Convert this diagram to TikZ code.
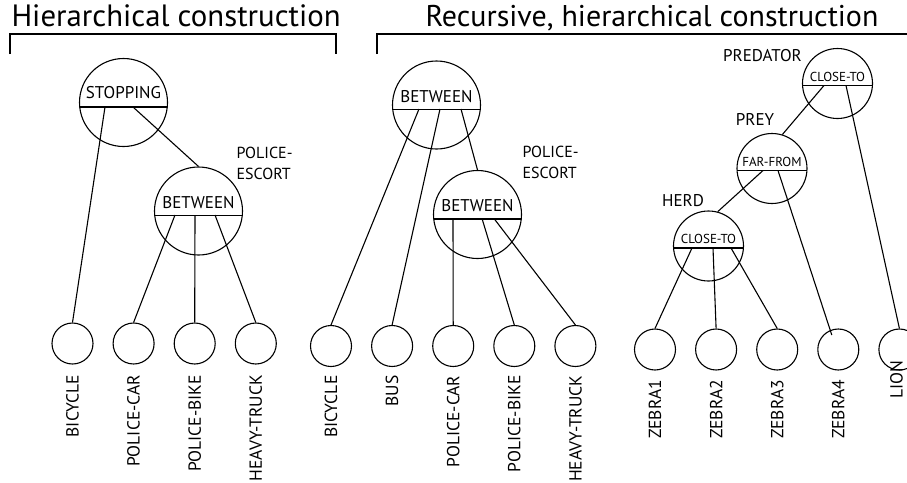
\documentclass[tikz,border=0pt]{standalone}
\usepackage{fontspec}
\setmainfont{PT Sans}
\usetikzlibrary{positioning}

\begin{document}
\begin{tikzpicture}[x=1pt, y=-1pt, node distance=19pt, line width=1.1pt]
	\tikzstyle{rel}=[draw, circle, minimum size=88pt, inner sep=0pt,
path picture={\draw[line width=1.1pt] ([yshift=-4.5pt]path picture bounding box.west) -- ([yshift=-4.5pt]path picture bounding box.east);}]
	\tikzstyle{rel_s}=[draw, circle, minimum size=70pt, inner sep=0pt,
path picture={\draw[line width=1.1pt] ([yshift=-2pt]path picture bounding box.west) -- ([yshift=-2pt]path picture bounding box.east);}]
	\tikzstyle{leaf}=[draw, circle, minimum size=41pt, inner sep=0pt]
	\tikzstyle{obj}=[rotate=90, anchor=east, inner sep=0pt, font=\fontsize{17.5}{17.5}\selectfont]
	\tikzstyle{tag}=[inner sep=0pt, align=left, font=\fontsize{16}{21}\selectfont]
	\tikzstyle{big}=[font=\fontsize{17}{17}\selectfont, inner sep=0pt]
	\tikzstyle{small}=[font=\fontsize{13}{13}\selectfont, inner sep=0pt]
	\tikzstyle{title}=[anchor=base west, inner sep=0pt]

	\useasboundingbox (0,0) rectangle (907,482);

	\node[title, font=\fontsize{30.8}{30.8}\selectfont] (t1) at (11,26) {Hierarchical construction};
	\node[title, font=\fontsize{30}{30}\selectfont] (t2) at (425,26) {Recursive, hierarchical construction};
	\draw (10,54) -- (10,34) -- (336,34) -- (336,54);
	\draw (377,54) -- (377,34) -- (930,34);

	% hierarchical
	\node[rel, label={[big, yshift=9.5pt]center:STOPPING}] (stop) at (123.5,102.5) {};
	\node[rel, label={[big, yshift=8.5pt]center:BETWEEN}] (bw1) at (198.5,211) {};
	\node[tag, anchor=north west] (esc1) at (236,147) {POLICE-\\ESCORT};

	\node[leaf] (bic1) at (72.5,343.5) {};
	\node[leaf] (pcar1) [right=of bic1] {};
	\node[leaf] (pbike1) [right=of pcar1] {};
	\node[leaf] (truck1) [right=of pbike1] {};
	\node[obj] (bic1_l) at ([yshift=-10pt]bic1.south) {BICYCLE};
	\node[obj] (pcar1_l) at ([yshift=-10pt]pcar1.south) {POLICE-CAR};
	\node[obj] (pbike1_l) at ([yshift=-10pt]pbike1.south) {POLICE-BIKE};
	\node[obj] (truck1_l) at ([yshift=-10pt]truck1.south) {HEAVY-TRUCK};

	\draw ([shift={(-18.5,4.5)}]stop.center) -- (bic1.north);
	\draw ([shift={(9.5,4.5)}]stop.center) -- (bw1.north);
	\draw ([shift={(-23.5,4)}]bw1.center) -- (pcar1.north);
	\draw ([shift={(-3.5,4)}]bw1.center) -- (pbike1.north);
	\draw ([shift={(16.5,4)}]bw1.center) -- (truck1.north);

	% recursive
	\node[rel, label={[big, yshift=8.5pt]center:BETWEEN}] (bwa) at (436.5,105) {};
	\node[rel, label={[big, yshift=8.5pt]center:BETWEEN}] (bwb) at (477.5,214.5) {};
	\node[tag, anchor=north west] (esc2) at (522,146) {POLICE-\\ESCORT};

	\node[leaf] (bic2) at (331,346) {};
	\node[leaf] (bus2) [right=of bic2] {};
	\node[leaf] (pcar2) [right=of bus2] {};
	\node[leaf] (pbike2) [right=of pcar2] {};
	\node[leaf] (truck2) [right=of pbike2] {};
	\node[obj] (bic2_l) at ([yshift=-8pt]bic2.south) {BICYCLE};
	\node[obj] (bus2_l) at ([yshift=-8pt]bus2.south) {BUS};
	\node[obj] (pcar2_l) at ([yshift=-8pt]pcar2.south) {POLICE-CAR};
	\node[obj] (pbike2_l) at ([yshift=-8pt]pbike2.south) {POLICE-BIKE};
	\node[obj] (truck2_l) at ([yshift=-8pt]truck2.south) {HEAVY-TRUCK};

	\draw ([shift={(-17.5,4)}]bwa.center) -- (bic2.north);
	\draw ([shift={(3.5,4)}]bwa.center) -- (bus2.north);
	\draw ([shift={(24.5,4)}]bwa.center) -- (bwb.north);
	\draw ([shift={(-24.5,4)}]bwb.center) -- (pcar2.north);
	\draw ([shift={(4.5,4)}]bwb.center) -- (pbike2.north);
	\draw ([shift={(16.5,4)}]bwb.center) -- (truck2.north);

	% zebras
	\node[rel_s, label={[small, yshift=7pt]center:CLOSE-TO}] (pred) at (837.5,83.5) {};
	\node[rel_s, label={[small, yshift=7pt]center:FAR-FROM}] (far) at (772,168.5) {};
	\node[rel_s, label={[small, yshift=7pt]center:CLOSE-TO}] (herd) at (708.5,246) {};
	\node[big] (pred_l) at (762.5,55.5) {PREDATOR};
	\node[big] (prey_l) at (755,119) {PREY};
	\node[big] (herd_l) at (683,201) {HERD};

	\node[leaf] (z1) at (655,349.5) {};
	\node[leaf] (z2) [right=of z1] {};
	\node[leaf] (z3) [right=of z2] {};
	\node[leaf] (z4) [right=of z3] {};
	\node[leaf] (lion) [right=of z4] {};
	\node[obj] (z1_l) at ([yshift=-9pt]z1.south) {ZEBRA1};
	\node[obj] (z2_l) at ([yshift=-9pt]z2.south) {ZEBRA2};
	\node[obj] (z3_l) at ([yshift=-9pt]z3.south) {ZEBRA3};
	\node[obj] (z4_l) at ([yshift=-9pt]z4.south) {ZEBRA4};
	\node[obj] (lion_l) at ([shift={(-3,-10)}]lion.south) {LION};

	\coordinate (z4in) at ([shift={(-6.5,-14.5)}]z4.center);
	\draw ([shift={(-13.5,2)}]pred.center) -- (far.73);
	\draw ([shift={(8.5,2)}]pred.center) -- (lion.north);
	\draw ([shift={(-9,2)}]far.center) -- (herd.75);
	\draw ([shift={(6,2)}]far.center) -- (z4in);
	\draw ([shift={(-16.5,2)}]herd.center) -- (z1.north);
	\draw ([shift={(4.5,2)}]herd.center) -- (z2.north);
	\draw ([shift={(22.5,2)}]herd.center) -- (z3.north);
\end{tikzpicture}
\end{document}
